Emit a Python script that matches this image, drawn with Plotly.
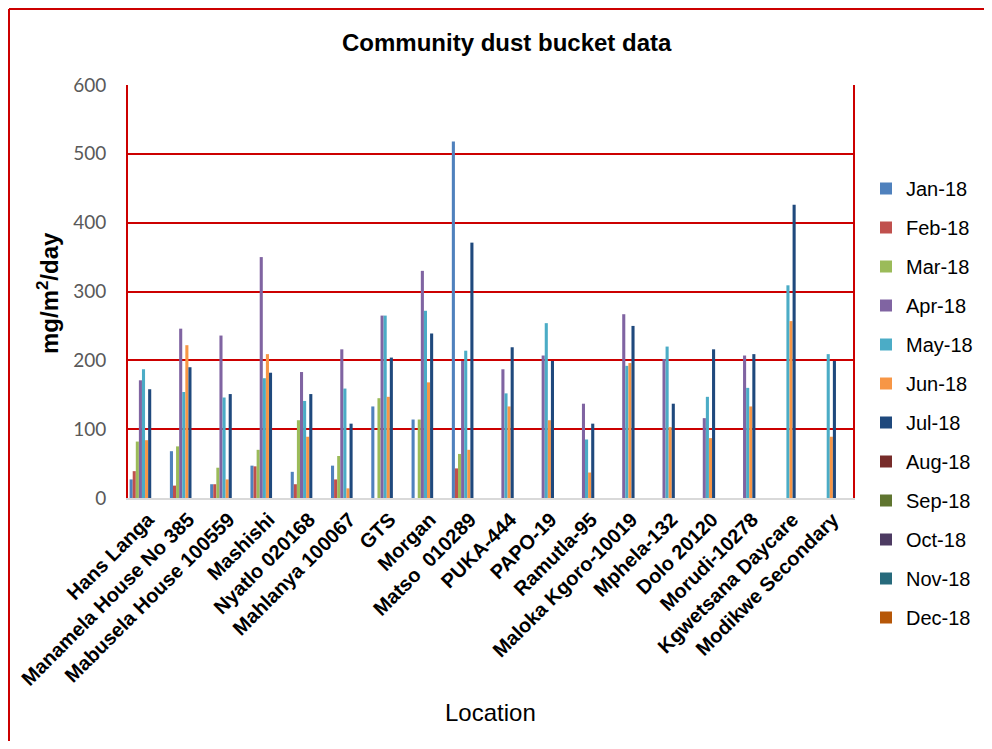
import plotly.graph_objects as go

locations = ["Hans Langa", "Manamela House No 385", "Mabusela House 100559", "Mashishi",
             "Nyatlo 020168", "Mahlanya 100067", "GTS", "Morgan", "Matso  010289",
             "PUKA-444", "PAPO-19", "Ramutla-95", "Maloka Kgoro-10019", "Mphela-132",
             "Dolo 20120", "Morudi-10278", "Kgwetsana Daycare", "Modikwe Secondary"]

months = ["Jan-18", "Feb-18", "Mar-18", "Apr-18", "May-18", "Jun-18",
          "Jul-18", "Aug-18", "Sep-18", "Oct-18", "Nov-18", "Dec-18"]

N = None
jan = [27, 68, 20, 47, 38, 47, 133, 114, 518, N, N, N, N, N, N, N, N, N]
feb = [39, 18, 20, 46, 20, 27, N, N, 43, N, N, N, N, N, N, N, N, N]
mar = [82, 75, 44, 70, 113, 61, 145, 114, 64, N, N, N, N, N, N, N, N, N]
apr = [171, 246, 236, 350, 183, 216, 265, 330, 199, 187, 207, 137, 267, 202, 116, 207, N, N]
may = [187, 154, 146, 174, 141, 159, 265, 272, 214, 152, 254, 85, 192, 220, 147, 160, 309, 209]
jun = [84, 222, 27, 209, 89, 14, 147, 168, 70, 133, 113, 37, 196, 103, 87, 133, 257, 89]
jul = [158, 190, 151, 182, 151, 108, 204, 239, 371, 219, 199, 108, 250, 137, 216, 209, 426, 199]
aug = [N] * 18
sep = [N] * 18
oct_ = [N] * 18
nov = [N] * 18
dec = [N] * 18

series = [jan, feb, mar, apr, may, jun, jul, aug, sep, oct_, nov, dec]
colors = ["#4F81BD", "#C0504D", "#9BBB59", "#8064A2", "#4BACC6", "#F79646",
          "#1F497D", "#772C2A", "#5F7530", "#4D3B62", "#276A7C", "#B65708"]

fig = go.Figure()
for m, vals, c in zip(months, series, colors):
    fig.add_trace(go.Bar(x=locations, y=vals, name=m, marker_color=c,
                         marker_line_width=0, legendgroup=m))

RED = "#CC0000"
OFF = 8  # page body margin
W, H = 992 - 2 * OFF, 749 - 2 * OFF
L = 128 - OFF
T = 85 - OFF
R = W - (853 - OFF)
B = H - (498 - OFF)
pw, ph = W - L - R, H - T - B


def px(X):
    return (X - OFF - L) / pw


def py(Y):
    return (H - B - (Y - OFF)) / ph


FONT = "Liberation Sans, Arial, sans-serif"

fig.update_layout(
    width=W, height=H,
    margin=dict(l=L, r=R, t=T, b=B, autoexpand=False),
    paper_bgcolor="white", plot_bgcolor="white",
    barmode="group", bargap=0.08, bargroupgap=0,
    font=dict(family=FONT, color="black"),
    showlegend=True,
    legend=dict(x=px(866), y=py(169), xanchor="left", yanchor="top",
                font=dict(size=20, family=FONT, color="black"),
                tracegroupgap=10, bgcolor="rgba(0,0,0,0)", maxheight=700),
    xaxis=dict(tickangle=-45, showline=True, linecolor="#D9D9D9", linewidth=2,
               ticks="", showgrid=False,
               tickfont=dict(size=20, weight="bold", family=FONT, color="black")),
    yaxis=dict(range=[0, 600], dtick=100, showgrid=True, gridcolor=RED, gridwidth=2,
               showline=True, linecolor=RED, linewidth=2, mirror=True, zeroline=False,
               ticks="", ticklabelstandoff=16,
               tickfont=dict(size=19, family="Lato, Open Sans, sans-serif", color="#595959")),
    annotations=[
        dict(text="<b>Community dust bucket data</b>", x=px(507), y=py(42), xref="paper",
             yref="paper", xanchor="center", yanchor="middle", showarrow=False,
             font=dict(size=24, color="black")),
        dict(text="<b>mg/m<sup>2</sup>/day</b>", x=px(48), y=py(293), xref="paper",
             yref="paper", xanchor="center", yanchor="middle", showarrow=False,
             textangle=-90, font=dict(size=24, color="black")),
        dict(text="Location", x=px(490), y=py(712), xref="paper", yref="paper",
             xanchor="center", yanchor="middle", showarrow=False,
             font=dict(size=24, color="black")),
    ],
    shapes=[
        dict(type="line", xref="paper", yref="paper", x0=px(9), x1=px(9), y0=py(9), y1=py(760),
             line=dict(color=RED, width=2)),
        dict(type="line", xref="paper", yref="paper", x0=px(9), x1=px(1000), y0=py(9), y1=py(9),
             line=dict(color=RED, width=2)),
    ],
)

fig.write_html("out.html")
